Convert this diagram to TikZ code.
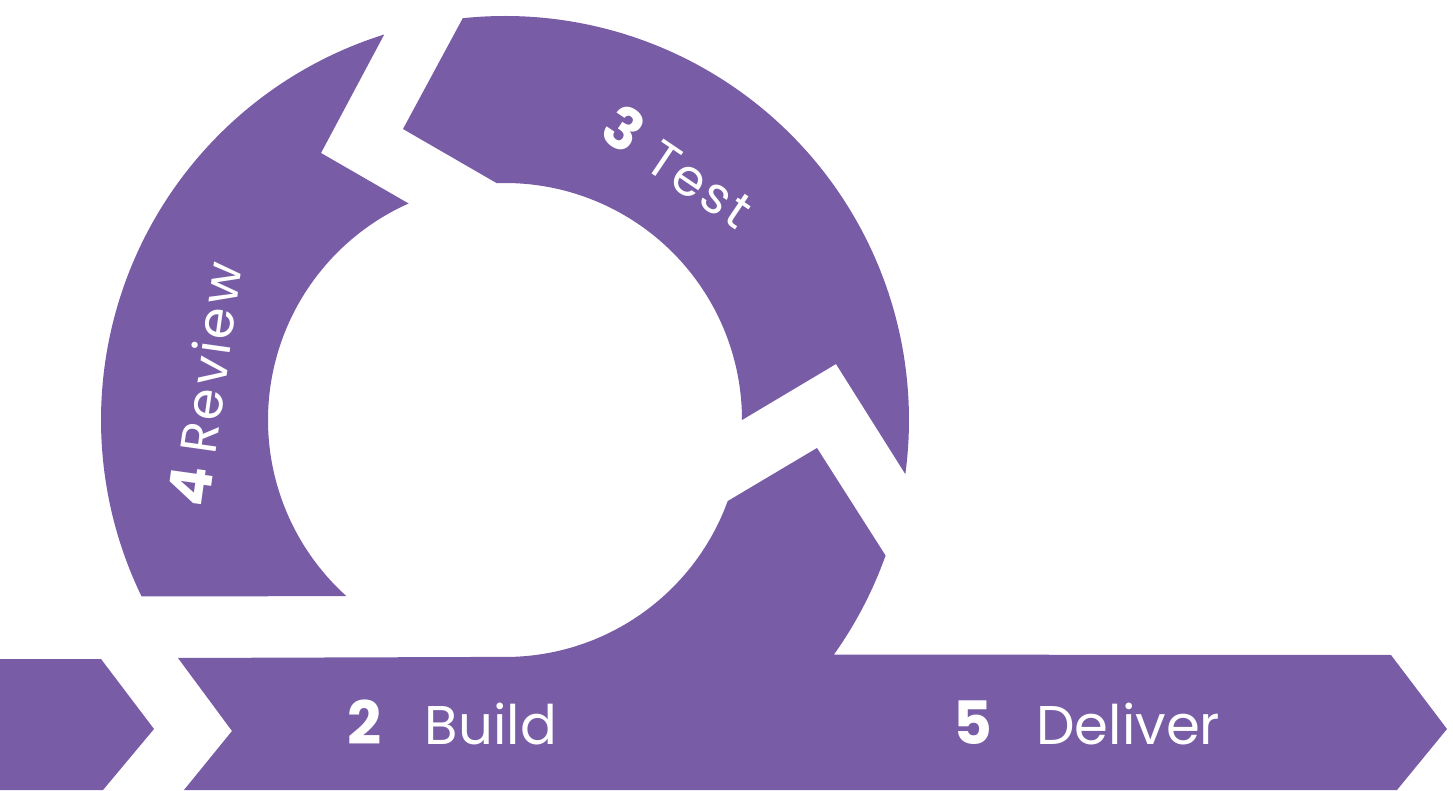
\documentclass[tikz,border=0pt]{standalone}
\usepackage{fontspec}
\setmainfont{Poppins}
\newfontfamily\ringfont[LetterSpace=6]{Poppins}
\usetikzlibrary{calc}
\definecolor{stagepurple}{RGB}{120,92,166}

\begin{document}
\begin{tikzpicture}[x=0.01cm,y=0.01cm,
	seg/.style={fill=stagepurple,draw=none},
	every node/.style={text=white,inner sep=0pt},
	bandlabel/.style={font=\fontsize{15.5}{18}\selectfont,anchor=base},
	ringlabel/.style={font=\ringfont\fontsize{14.5}{17}\selectfont}]
	\useasboundingbox (0,0) rectangle (1453,790);
	\coordinate (c) at (505,370);
	% lead-in chevron
	\fill[seg] (0,131) -- (101,131) -- (154,61) -- (103,0) -- (0,0) -- cycle;
	% build / deliver band, bending up into the ring
	\fill[seg] (178,132) -- (232,59) -- (184,0) -- (1397,0) -- (1447,61) -- (1391,135)
		-- ($(c)+(-35.5:404)$) arc[start angle=-35.5,end angle=-19.6,radius=404]
		-- (817,342) -- ($(c)+(-20:237)$) arc[start angle=-20,end angle=-88,radius=237]
		-- cycle;
	% test
	\fill[seg] ($(c)+(96:404)$) arc[start angle=96,end angle=-7.7,radius=404]
		-- (836,426) -- ($(c)+(0:237)$) arc[start angle=0,end angle=92,radius=237]
		-- (403,661) -- cycle;
	% review
	\fill[seg] ($(c)+(107.4:404)$) arc[start angle=107.4,end angle=205.9,radius=404]
		-- ($(c)+(228:237)$) arc[start angle=228,end angle=114,radius=237]
		-- (321,637) -- cycle;
	\node[bandlabel] (build) at (452,45) {\textbf{\fontsize{17}{18}\selectfont 2}\hspace{0.8em}Build};
	\node[bandlabel] (deliver) at (1087,45) {\textbf{\fontsize{17}{18}\selectfont 5}\hspace{0.8em}Deliver};
	\node[ringlabel,rotate=-34] (test) at (679,624) {\textbf{\fontsize{16.5}{18}\selectfont 3}\hspace{0.3em}Test};
	\node[ringlabel,rotate=82] (review) at (205,406) {\textbf{\fontsize{16.5}{18}\selectfont 4}\hspace{0.2em}Review};
\end{tikzpicture}
\end{document}
